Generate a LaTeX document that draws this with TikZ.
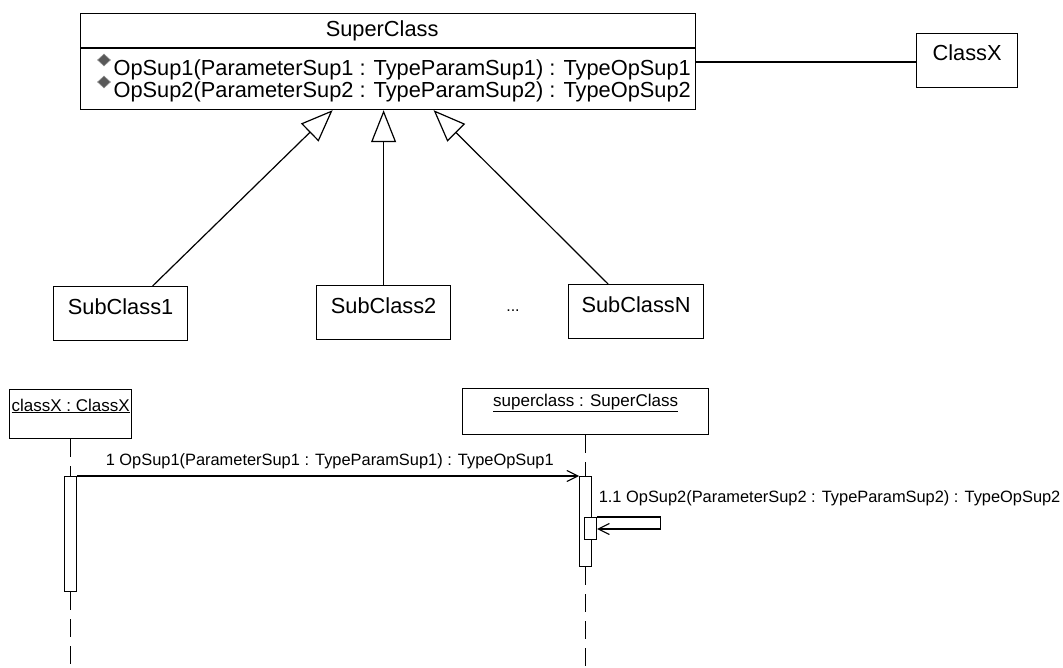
\documentclass[tikz,border=0pt]{standalone}
\usepackage{fontspec}
\setmainfont{Liberation Sans}
\usetikzlibrary{arrows.meta,calc,shapes.geometric}
\begin{document}
\begin{tikzpicture}[x=1pt,y=-1pt,
  line width=1.2pt,
  classbox/.style={draw, rectangle, inner sep=0pt, anchor=north west},
  bigtxt/.style={font=\fontsize{21.8}{24}\selectfont, inner sep=0pt},
  smalltxt/.style={font=\fontsize{16.4}{19}\selectfont, inner sep=0pt},
  objtxt/.style={font=\fontsize{17}{19}\selectfont, inner sep=0pt},
  gen/.style={-{Triangle[open,length=32pt,width=25pt,line width=1.2pt]}},
  lifeline/.style={line width=1.2pt, dash pattern=on 18pt off 9pt},
  actbar/.style={draw, fill=white, rectangle, inner sep=0pt, anchor=north west},
  msg/.style={-{Straight Barb[length=11pt,width=11pt,line width=1.1pt]}},
  opicon/.style={diamond, fill=black!65, draw=black!45, line width=0.6pt,
                 inner sep=0pt, minimum width=13pt, minimum height=12pt}
]
\useasboundingbox (0,0) rectangle (1063,668);

% ---------- class diagram ----------
\node[classbox, minimum width=615pt, minimum height=96pt] (super) at (80,13) {};
\draw ($(super.north west)+(0,35)$) -- ($(super.north east)+(0,35)$);
\node[bigtxt] (supname) at ($(super.north)+(-6,17.5)$) {SuperClass};
\node[opicon] (ic1) at (104,60) {};
\node[opicon] (ic2) at (104,82) {};
\node[bigtxt, anchor=base west] (op1) at (113,76) {OpSup1(ParameterSup1 : TypeParamSup1) : TypeOpSup1};
\node[bigtxt, anchor=base west] (op2) at (113,98) {OpSup2(ParameterSup2 : TypeParamSup2) : TypeOpSup2};

\node[classbox, minimum width=101pt, minimum height=54pt] (classX) at (916,33) {};
\node[bigtxt] (classXname) at ($(classX.north)+(0,20)$) {ClassX};
\draw ($(super.north east)+(0,49)$) -- ($(classX.north west)+(0,29)$);

\node[classbox, minimum width=134pt, minimum height=54pt] (sub1) at (53,286) {};
\node[classbox, minimum width=134pt, minimum height=54pt] (sub2) at (316,285) {};
\node[classbox, minimum width=135pt, minimum height=54pt] (subN) at (568,284) {};
\node[bigtxt] (sub1name) at ($(sub1.north)+(0,21)$) {SubClass1};
\node[bigtxt] (sub2name) at ($(sub2.north)+(0,21)$) {SubClass2};
\node[bigtxt] (subNname) at ($(subN.north)+(0,21)$) {SubClassN};
\node[font=\fontsize{16}{18}\selectfont, inner sep=0pt] (dots) at (513,311) {...};

\draw[gen] ($(sub1.north)+(32,0)$) -- ($(super.south)+(-55.5,0)$);
\draw[gen] (sub2.north) -- ($(super.south)+(-4.5,0)$);
\draw[gen] ($(subN.north)+(-28,0)$) -- ($(super.south)+(45.5,0)$);

% ---------- sequence diagram ----------
\node[classbox, minimum width=122pt, minimum height=49pt] (objX) at (9,389) {};
\node[objtxt] (objXname) at ($(objX.north)+(0,17)$) {\underline{classX : ClassX}};
\node[classbox, minimum width=246pt, minimum height=46pt] (objS) at (462,388) {};
\node[objtxt] (objSname) at ($(objS.north)+(0,15)$) {\underline{superclass : SuperClass}};

\node[actbar, minimum width=12pt, minimum height=115pt] (barX) at (64,476) {};
\node[actbar, minimum width=12pt, minimum height=90pt] (barS) at (579,476) {};
\coordinate (endX) at ($(barX.south)+(0,77)$);
\coordinate (endS) at ($(barS.south)+(0,102)$);

\draw[lifeline] (objX.south) -- (barX.north);
\draw[lifeline] (barX.south) -- (endX);
\draw[lifeline] (objS.south) -- (barS.north);
\draw[lifeline] (barS.south) -- (endS);
\node[actbar, minimum width=12pt, minimum height=115pt] at (64,476) {};
\node[actbar, minimum width=12pt, minimum height=90pt] at (579,476) {};
\node[actbar, minimum width=12pt, minimum height=22pt] (barS2) at (584,517) {};

\draw[msg] (barX.north east) -- (barS.north west);
\node[smalltxt, anchor=west] (m1) at ($(barX.north east)+(28,-15)$)
  {1 OpSup1(ParameterSup1 : TypeParamSup1) : TypeOpSup1};

\draw[msg] (barS2.north east) -- ++(63,0) |- ($(barS2.north east)+(0,12)$);
\node[smalltxt, anchor=west] (m2) at ($(barS2.north east)+(1,-19)$)
  {1.1 OpSup2(ParameterSup2 : TypeParamSup2) : TypeOpSup2};
\end{tikzpicture}
\end{document}
